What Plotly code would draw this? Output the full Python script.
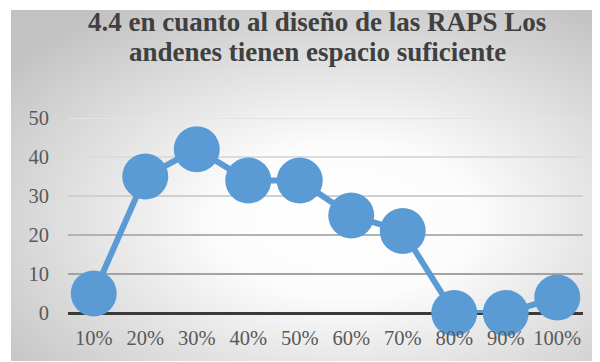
import base64
import plotly.graph_objects as go

categories = ["10%", "20%", "30%", "40%", "50%", "60%", "70%", "80%", "90%", "100%"]
values = [5, 35, 42, 34, 34, 25, 21, 0, 0, 4]
y_ticks = [0, 10, 20, 30, 40, 50]
title_lines = ["4.4 en cuanto al diseño de las RAPS Los", "andenes tienen espacio suficiente"]

W, H = 600, 362
L, R, T, B = 60, 25, 110, 57
pw, ph = W - L - R, H - T - B

# background gradient (style only)
svg = (
    '<svg xmlns="http://www.w3.org/2000/svg" width="600" height="351" viewBox="0 0 600 351" preserveAspectRatio="none">'
    '<defs><radialGradient id="g" cx="0.56" cy="0.6" r="0.72" fx="0.56" fy="0.6">'
    '<stop offset="0" stop-color="#ffffff"/>'
    '<stop offset="0.3" stop-color="#fcfcfc"/>'
    '<stop offset="1" stop-color="#c2c2c2"/>'
    '</radialGradient></defs>'
    '<rect x="0" y="0" width="600" height="351" fill="url(#g)"/></svg>'
)
bg_src = "data:image/svg+xml;base64," + base64.b64encode(svg.encode()).decode()

grid_colors = {10: "#a3a3a3", 20: "#b2b2b2", 30: "#d0d0d0", 40: "#dcdcdc", 50: "#e4e4e4"}


def px_x(x):
    return (x - L) / pw


def px_y(y):
    return (H - B - y) / ph


fig = go.Figure()
fig.add_trace(go.Scatter(
    x=categories, y=values, mode="lines+markers",
    line=dict(color="#5B9BD5", width=6),
    marker=dict(color="#5B9BD5", size=46, line=dict(width=0)),
    cliponaxis=False, hoverinfo="skip",
))

title_font = dict(family="Liberation Serif", size=27, color="#404040")
annotations = [
    dict(text="<b>" + title_lines[0] + "</b>", xref="paper", yref="paper",
         x=px_x(309), y=px_y(14), xanchor="center", yanchor="middle",
         showarrow=False, font=title_font),
    dict(text="<b>" + title_lines[1] + "</b>", xref="paper", yref="paper",
         x=px_x(309), y=px_y(44), xanchor="center", yanchor="middle",
         showarrow=False, font=title_font),
]

shapes = [
    dict(type="line", xref="paper", yref="y", x0=0, x1=1, y0=v, y1=v,
         line=dict(color=grid_colors[v], width=2), layer="below")
    for v in y_ticks if v > 0
]

fig.update_layout(
    width=W, height=H,
    margin=dict(l=L, r=R, t=T, b=B, pad=0),
    paper_bgcolor="white",
    plot_bgcolor="rgba(0,0,0,0)",
    showlegend=False,
    annotations=annotations,
    shapes=shapes,
    images=[dict(
        source=bg_src, xref="paper", yref="paper",
        x=px_x(3), y=px_y(2), sizex=(600 - 3) / pw, sizey=(353 - 2) / ph,
        xanchor="left", yanchor="top", sizing="stretch", layer="below",
    )],
    xaxis=dict(
        type="category", range=[-0.5, 9.5],
        showgrid=False, zeroline=False, showline=False,
        tickfont=dict(family="Liberation Serif", size=20.5, color="#595959"),
        ticklabelstandoff=10,
    ),
    yaxis=dict(
        range=[0, 50], tickvals=y_ticks,
        showgrid=False,
        zeroline=True, zerolinecolor="#3a3a3a", zerolinewidth=3,
        showline=False,
        tickfont=dict(family="Liberation Serif", size=20.5, color="#595959"),
        ticklabelstandoff=18,
    ),
)

fig.write_html("out.html")
